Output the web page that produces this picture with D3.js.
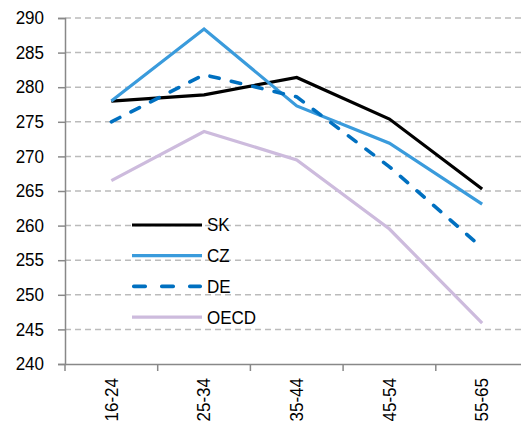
<!DOCTYPE html>
<html><head><meta charset="utf-8">
<script src="https://cdn.jsdelivr.net/npm/d3@7"></script>
<style>body{margin:0;background:#fff}svg{display:block}</style>
</head><body>
<svg id="c" width="521" height="426"></svg>
<script>
const categories = ["16-24","25-34","35-44","45-54","55-65"];
const SK   = [278.0, 278.9, 281.4, 275.4, 265.3];
const CZ   = [278.0, 288.4, 277.3, 271.9, 263.1];
const DE   = [275.0, 281.8, 278.6, 268.5, 256.8];
const OECD = [266.5, 273.6, 269.5, 259.5, 245.9];
const yTicks = [240,245,250,255,260,265,270,275,280,285,290];
const seriesNames = ["SK","CZ","DE","OECD"];

const series = [
  {name:"SK", values:SK, color:"#000000", dash:null, legDash:null, cap:"butt", w:3.2},
  {name:"CZ", values:CZ, color:"#3A9BDC", dash:null, legDash:null, cap:"butt", w:3.2},
  {name:"DE", values:DE, color:"#0070C0", dash:"9.5,12.5", legDash:"11.5,16.5", cap:"round", w:3.6},
  {name:"OECD", values:OECD, color:"#CDBBDD", dash:null, legDash:null, cap:"butt", w:3.2}
];

const svg = d3.select("#c");
const font = "'Liberation Sans', Arial, sans-serif";
const FS = 18, SX = 0.945;
const x = d3.scaleBand().domain(categories).range([65, 528.5]);
const y = d3.scaleLinear().domain([240, 290]).range([364, 18]);

// gridlines
svg.append("g").selectAll("line").data(yTicks.filter(t=>t>240)).join("line")
  .attr("x1", 65).attr("x2", 521)
  .attr("y1", d=>y(d)).attr("y2", d=>y(d))
  .attr("stroke", "#BBBBBB").attr("stroke-width", 1.5).attr("stroke-dasharray", "6,4");

// y axis
const ya = svg.append("g").attr("transform","translate(65,0)")
  .call(d3.axisLeft(y).tickValues(yTicks).tickSize(7).tickPadding(14).tickFormat(d3.format("d")));
ya.select(".domain").attr("stroke","#888").attr("stroke-width",1.5);
ya.selectAll(".tick line").attr("stroke","#888").attr("stroke-width",1.5);
ya.selectAll("text").attr("font-family",font).attr("font-size",FS).attr("fill","#000")
  .attr("x", -21/SX).attr("transform",`scale(${SX},1)`);

// x axis
const xa = svg.append("g").attr("transform","translate(0,364)")
  .call(d3.axisBottom(x).tickSize(0).tickPadding(0));
xa.select(".domain").attr("stroke","#888").attr("stroke-width",1.5);
xa.selectAll(".tick text").attr("font-family",font).attr("font-size",FS).attr("fill","#000")
  .attr("transform",`rotate(-90) scale(${SX},1)`).attr("text-anchor","end")
  .attr("x",-14/SX).attr("y",0).attr("dy","0.35em");
// boundary tick marks
const bounds = d3.range(categories.length + 1).map(i => x(categories[0]) + x.step()*i);
svg.append("g").selectAll("line").data(bounds).join("line")
  .attr("x1", d=>d).attr("x2", d=>d)
  .attr("y1",364).attr("y2",371).attr("stroke","#888").attr("stroke-width",1.5);

// lines
const line = d3.line().x((d,i)=>x(categories[i])+x.bandwidth()/2).y(d=>y(d));
series.forEach(s=>{
  svg.append("path").datum(s.values).attr("d",line)
    .attr("fill","none").attr("stroke",s.color).attr("stroke-width",s.w)
    .attr("stroke-dasharray",s.dash).attr("stroke-linecap",s.cap).attr("stroke-linejoin","miter");
});

// legend
const lg = svg.append("g");
series.forEach((s,i)=>{
  const yy = 225 + i*30.7;
  const x1 = s.legDash ? 133.75 : 132, x2 = s.legDash ? 200.25 : 202;
  lg.append("line").attr("x1",x1).attr("x2",x2).attr("y1",yy).attr("y2",yy)
    .attr("stroke",s.color).attr("stroke-width",s.w).attr("stroke-dasharray",s.legDash)
    .attr("stroke-linecap",s.cap);
  lg.append("text").attr("transform",`translate(207,${yy}) scale(${SX},1)`).attr("dy","0.36em")
    .attr("font-family",font).attr("font-size",FS).attr("fill","#000").text(seriesNames[i]);
});
</script>
</body></html>
